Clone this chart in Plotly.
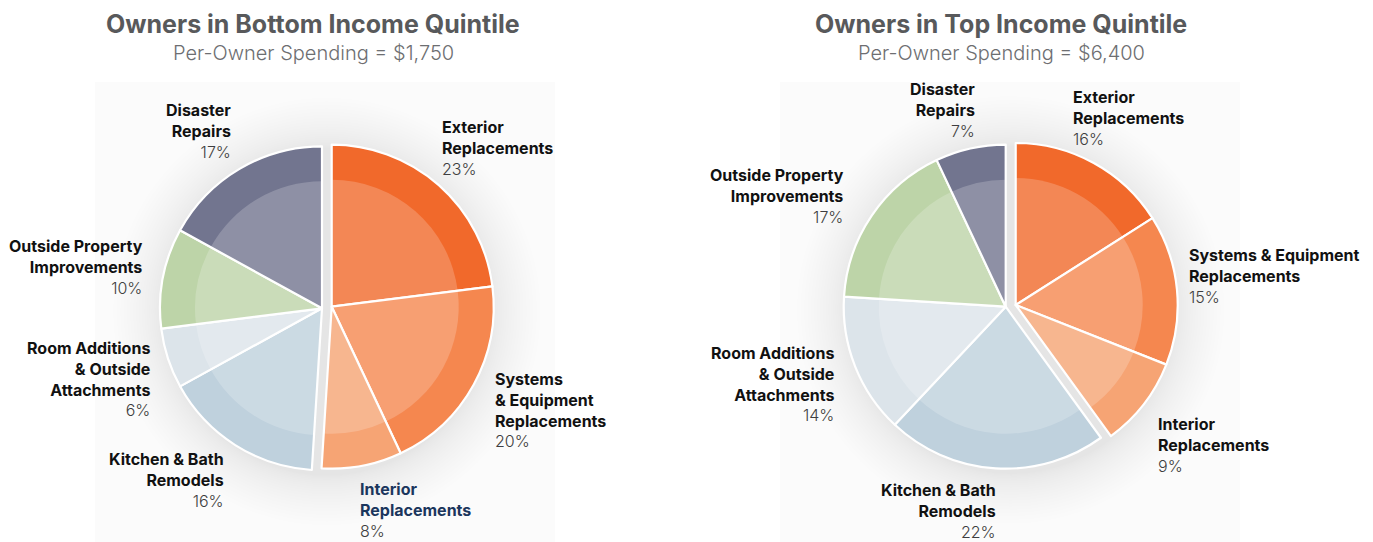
import plotly.graph_objects as go

W, H = 1373, 542

# ---------------- data ----------------
categories = ["Exterior Replacements", "Systems & Equipment Replacements", "Interior Replacements",
              "Kitchen & Bath Remodels", "Room Additions & Outside Attachments",
              "Outside Property Improvements", "Disaster Repairs"]
bottom_values = [23, 20, 8, 16, 6, 10, 17]
top_values = [16, 15, 9, 22, 14, 17, 7]
orange_group = [True, True, True, False, False, False, False]

bottom_title = "Owners in Bottom Income Quintile"
bottom_subtitle = "Per-Owner Spending = $1,750"
top_title = "Owners in Top Income Quintile"
top_subtitle = "Per-Owner Spending = $6,400"

# ---------------- style ----------------
slice_colors = ["#F1692B", "#F5874F", "#F6A474", "#BFD1DD", "#DCE4EA", "#BDD4A8", "#72758F"]
inner_overlay = "rgba(255,255,255,0.2)"
CLEAR = "rgba(0,0,0,0)"
FONT = "Inter"

R_OUT = 162
R_IN = 127

# pie geometry (pixels): centres of the two slice groups
pies = [
    dict(values=bottom_values, c_rest=(322, 308.3), c_orange=(331.7, 306.7),
         title=bottom_title, subtitle=bottom_subtitle, tx=313, bg=(95, 555)),
    dict(values=top_values, c_rest=(1005.7, 306.7), c_orange=(1015.7, 305.0),
         title=top_title, subtitle=top_subtitle, tx=1001, bg=(780, 1240)),
]


def dom(c, r):
    cx, cy = c
    return dict(x=[(cx - r) / W, (cx + r) / W], y=[1 - (cy + r) / H, 1 - (cy - r) / H])


fig = go.Figure()
shapes = []

for p in pies:
    vals = p["values"]
    # faint panel background
    shapes.append(dict(type="rect", xref="paper", yref="paper", layer="below",
                       x0=p["bg"][0] / W, x1=p["bg"][1] / W, y0=0, y1=1 - 82 / H,
                       fillcolor="#FBFBFB", line=dict(width=0)))
    # soft glow behind pie
    gcx = (p["c_rest"][0] + p["c_orange"][0]) / 2
    gcy = (p["c_rest"][1] + p["c_orange"][1]) / 2 + 4
    N = 22
    for i in range(N):
        rr = R_OUT + 2 + 50 * ((N - i) / N) ** 1.6
        shapes.append(dict(type="circle", xref="paper", yref="paper", layer="below",
                           x0=(gcx - rr) / W, x1=(gcx + rr) / W,
                           y0=1 - (gcy + rr) / H, y1=1 - (gcy - rr) / H,
                           fillcolor="rgba(0,0,0,0.005)", line=dict(width=0)))
    for group_is_orange, centre in [(False, p["c_rest"]), (True, p["c_orange"])]:
        show = [g == group_is_orange for g in orange_group]
        cols = [c if s else CLEAR for c, s in zip(slice_colors, show)]
        lcols = ["white" if s else CLEAR for s in show]
        fig.add_trace(go.Pie(labels=categories, values=vals, sort=False, direction="clockwise",
                             rotation=0, domain=dom(centre, R_OUT), textinfo="none",
                             hoverinfo="label+percent", showlegend=False,
                             marker=dict(colors=cols, line=dict(color=lcols, width=2.2))))
        icols = [inner_overlay if s else CLEAR for s in show]
        fig.add_trace(go.Pie(labels=categories, values=vals, sort=False, direction="clockwise",
                             rotation=0, domain=dom(centre, R_IN), textinfo="none",
                             hoverinfo="skip", showlegend=False,
                             marker=dict(colors=icols, line=dict(color=CLEAR, width=0))))

annotations = []
for p in pies:
    annotations.append(dict(x=p["tx"] / W, y=1 - 24 / H, xref="paper", yref="paper",
                            text=p["title"], showarrow=False, xanchor="center", yanchor="middle",
                            font=dict(family=FONT, size=25, color="#58595B", weight=700)))
    annotations.append(dict(x=p["tx"] / W, y=1 - 53 / H, xref="paper", yref="paper",
                            text=p["subtitle"], showarrow=False, xanchor="center", yanchor="middle",
                            font=dict(family=FONT, size=20, color="#6D6E71", weight=300)))

# label text lines per pie (name lines), percent appended from the values
bottom_label_lines = ["Exterior<br>Replacements", "Systems<br>& Equipment<br>Replacements",
                      "Interior<br>Replacements", "Kitchen & Bath<br>Remodels",
                      "Room Additions<br>& Outside<br>Attachments",
                      "Outside Property<br>Improvements", "Disaster<br>Repairs"]
top_label_lines = ["Exterior<br>Replacements", "Systems & Equipment<br>Replacements",
                   "Interior<br>Replacements", "Kitchen & Bath<br>Remodels",
                   "Room Additions<br>& Outside<br>Attachments",
                   "Outside Property<br>Improvements", "Disaster<br>Repairs"]
# (x, y of first line centre, anchor side) in pixels
bottom_label_pos = [(441, 128, "left"), (494, 380, "left"), (359, 490, "left"), (225, 460, "right"),
                    (151, 349, "right"), (144, 247, "right"), (232, 111, "right")]
top_label_pos = [(1072, 98, "left"), (1188, 256, "left"), (1157, 425, "left"), (997, 491, "right"),
                 (835, 354, "right"), (845, 176, "right"), (976, 90, "right")]
bottom_label_colors = ["#111111", "#111111", "#1B365D", "#111111", "#111111", "#111111", "#111111"]
top_label_colors = ["#111111"] * 7

for lines, pos, vals, lc in [(bottom_label_lines, bottom_label_pos, bottom_values, bottom_label_colors),
                             (top_label_lines, top_label_pos, top_values, top_label_colors)]:
    for t, (x, y, side), v, c in zip(lines, pos, vals, lc):
        txt = f"{t}<br><span style='font-weight:300;color:#3E3E40'>{v}%</span>"
        annotations.append(dict(x=x / W, y=1 - (y - 12) / H, xref="paper", yref="paper",
                                text=txt, showarrow=False, xanchor=side, yanchor="top", align=side,
                                borderpad=0,
                                font=dict(family=FONT, size=16, color=c, weight=700)))

fig.update_layout(width=W, height=H, margin=dict(l=0, r=0, t=0, b=0),
                  paper_bgcolor="white", plot_bgcolor="white",
                  shapes=shapes, annotations=annotations)

fig.write_html("out.html", config={"displayModeBar": False},
               post_script="document.body.style.margin='0';")
